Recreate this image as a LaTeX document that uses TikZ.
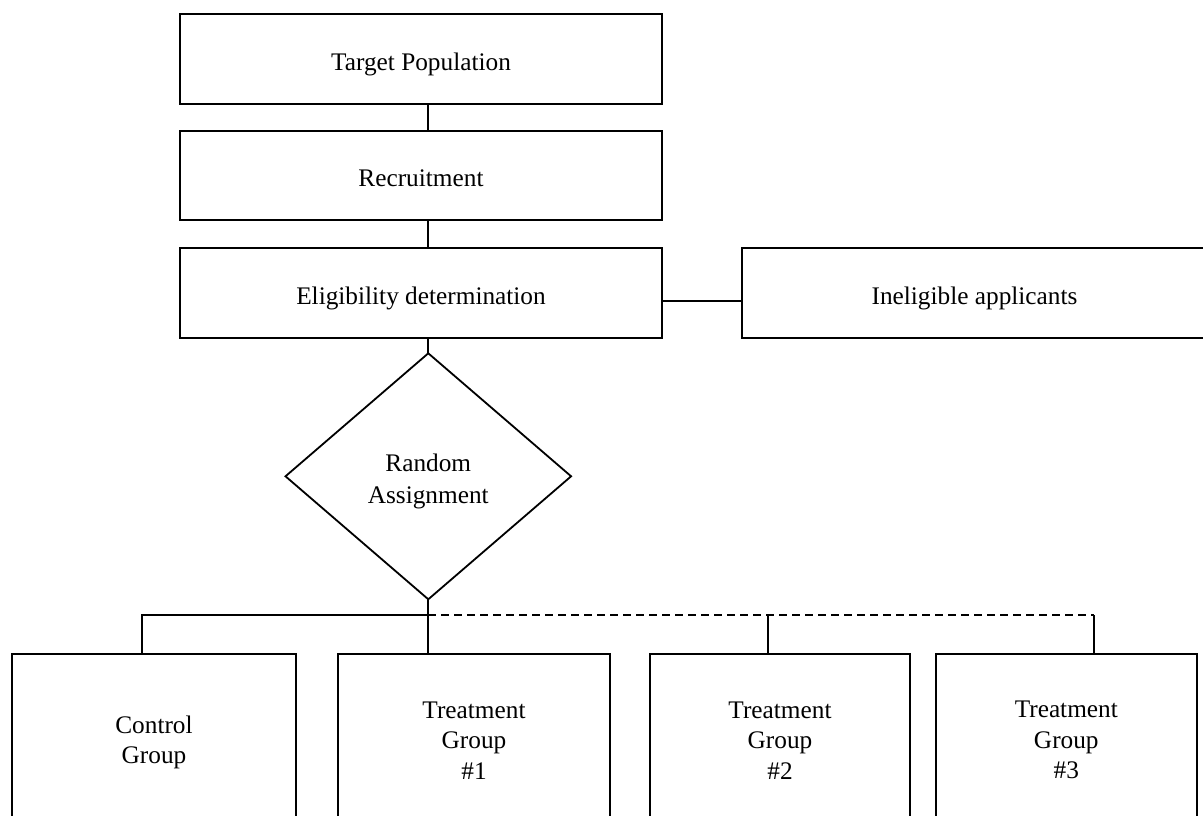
\documentclass[tikz,border=0pt]{standalone}
\usepackage{fontspec}
\setmainfont{Liberation Serif}
\usetikzlibrary{shapes.geometric}
\begin{document}
\begin{tikzpicture}[x=1pt,y=-1pt,
  every node/.style={inner sep=0pt,outer sep=0pt,font=\fontsize{25.3}{30.5}\selectfont,align=center},
  box/.style={draw,line width=2pt,rectangle},
  onelinebox/.style={box,text height=22.5pt,text depth=0pt},
  decision/.style={draw,line width=1.8pt,diamond,aspect=1.161,
    minimum width=285.6,minimum height=246,font=\fontsize{25.3}{32.5}\selectfont},
  link/.style={line width=1.8pt},
  optional/.style={line width=1.6pt,dash pattern=on 8pt off 5pt}]
\useasboundingbox (0,0) rectangle (1203,816);
\clip (0,0) rectangle (1203,816);

% upper chain
\node[onelinebox,minimum width=482,minimum height=90] (target) at (421,59) {Target Population};
\node[onelinebox,minimum width=482,minimum height=89.6] (recruit) at (421,175.5) {Recruitment};
\node[onelinebox,minimum width=482,minimum height=90] (elig) at (421,293.3) {Eligibility determination};
\node[onelinebox,minimum width=465,minimum height=90] (inelig) at (974.5,293.3) {Ineligible applicants};
\node[decision] (rand) at (428.3,476.3) {\rule{0pt}{27.5pt}Random\\Assignment};

% groups
\node[box,minimum width=284,minimum height=176] (ctrl) at (154,742.3) {Control\\Group};
\node[box,minimum width=272,minimum height=172] (t1) at (474,740.3) {Treatment\\Group\\\#1};
\node[box,minimum width=260,minimum height=172] (t2) at (780,740.3) {Treatment\\Group\\\#2};
\node[box,minimum width=260.7,minimum height=172] (t3) at (1066.3,740.3) {Treatment\\Group\\\#3};

% helper points
\coordinate (side) at (0,300.7);
\coordinate (bus) at (0,615);
\coordinate (dropc) at (142.3,615);
\coordinate (drop2) at (768.3,615);
\coordinate (drop3) at (1094.3,615);

% connectors
\draw[link] (target.south -| rand.north) -- (recruit.north -| rand.north);
\draw[link] (recruit.south -| rand.north) -- (elig.north -| rand.north);
\draw[link] (elig.south -| rand.north) -- (rand.north);
\draw[link] (elig.east |- side) -- (inelig.west |- side);
\draw[link] (rand.south) -- (t1.north -| rand.south);
\draw[link] (bus -| rand.south) -- (dropc) -- (ctrl.north -| dropc);
\draw[optional] (bus -| rand.south) -- (drop3);
\draw[link] (drop2) -- (t2.north -| drop2);
\draw[link] (drop3) -- (t3.north -| drop3);
\end{tikzpicture}
\end{document}
